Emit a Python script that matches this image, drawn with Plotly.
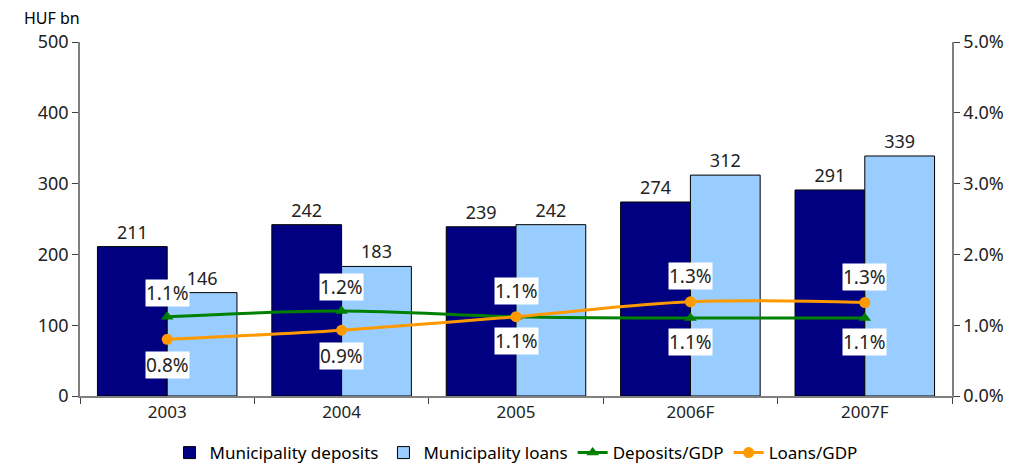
import plotly.graph_objects as go

years = ['2003', '2004', '2005', '2006F', '2007F']
deposits = [211, 242, 239, 274, 291]
loans = [146, 183, 242, 312, 339]
deposits_gdp = [1.12, 1.2, 1.12, 1.1, 1.1]
loans_gdp = [0.8, 0.93, 1.12, 1.33, 1.32]
# label goes above (+) or below (-) the point
dep_side = [1, 1, -1, -1, -1]
loan_side = [-1, -1, 1, 1, 1]

font = 'Noto Sans'
txt = '#222222'

fig = go.Figure()
fig.add_trace(go.Bar(x=years, y=deposits, name='Municipality deposits',
                     marker=dict(color='#000080', line=dict(color='black', width=1)),
                     text=deposits, textposition='outside', cliponaxis=False,
                     textfont=dict(size=18, color=txt)))
fig.add_trace(go.Bar(x=years, y=loans, name='Municipality loans',
                     marker=dict(color='#99CCFF', line=dict(color='black', width=1)),
                     text=loans, textposition='outside', cliponaxis=False,
                     textfont=dict(size=18, color=txt)))
fig.add_trace(go.Scatter(x=years, y=deposits_gdp, name='Deposits/GDP', yaxis='y2',
                         mode='lines+markers', line=dict(color='#008000', width=3, shape='spline'),
                         marker=dict(symbol='triangle-up', size=11, color='#008000')))
fig.add_trace(go.Scatter(x=years, y=loans_gdp, name='Loans/GDP', yaxis='y2',
                         mode='lines+markers', line=dict(color='#FF9900', width=3, shape='spline'),
                         marker=dict(symbol='circle', size=11, color='#FF9900')))

ann = []
for i, y in enumerate(years):
    ann.append(dict(x=i, y=deposits_gdp[i], yref='y2', text=f'{deposits_gdp[i]:.1f}%',
                    showarrow=False, yshift=24 * dep_side[i], bgcolor='white', borderpad=0,
                    font=dict(size=19, color=txt, family=font)))
    ann.append(dict(x=i, y=loans_gdp[i], yref='y2', text=f'{loans_gdp[i]:.1f}%',
                    showarrow=False, yshift=26 * loan_side[i], bgcolor='white', borderpad=0,
                    font=dict(size=19, color=txt, family=font)))
ann.append(dict(x=-0.067, y=1.068, xref='paper', yref='paper', xanchor='left', yanchor='middle',
                text='HUF bn', showarrow=False, font=dict(size=16, color='black', family=font)))

fig.update_layout(
    width=1020, height=466, template='plotly_white',
    margin=dict(l=72, r=76, t=34, b=78),
    font=dict(family=font, size=17, color=txt),
    barmode='group', bargap=0.2, bargroupgap=0,
    plot_bgcolor='white', paper_bgcolor='white',
    xaxis=dict(type='category', showline=True, linecolor='#808080', linewidth=1.5, ticks='outside',
               tickson='boundaries', ticklen=6, tickcolor='#404040', showgrid=False,
               tickfont=dict(size=17, color=txt), automargin=False),
    yaxis=dict(range=[0, 500], dtick=100, showline=True, linecolor='#808080', linewidth=1.5,
               ticks='outside', ticklen=6, tickcolor='#404040', showgrid=False, zeroline=False,
               tickfont=dict(size=18, color=txt), automargin=False),
    yaxis2=dict(range=[0, 5], dtick=1, tickformat='.1f', ticksuffix='%', overlaying='y',
                side='right', showline=True, linecolor='#808080', linewidth=1.5,
                ticks='outside', ticklen=6, tickcolor='#404040', showgrid=False, zeroline=False,
                tickfont=dict(size=18, color=txt), automargin=False),
    legend=dict(orientation='h', x=0.5, xanchor='center', yref='container', y=0.045,
                yanchor='middle', font=dict(size=17, color='black'), traceorder='normal'),
    annotations=ann,
)

fig.write_html('out.html')
